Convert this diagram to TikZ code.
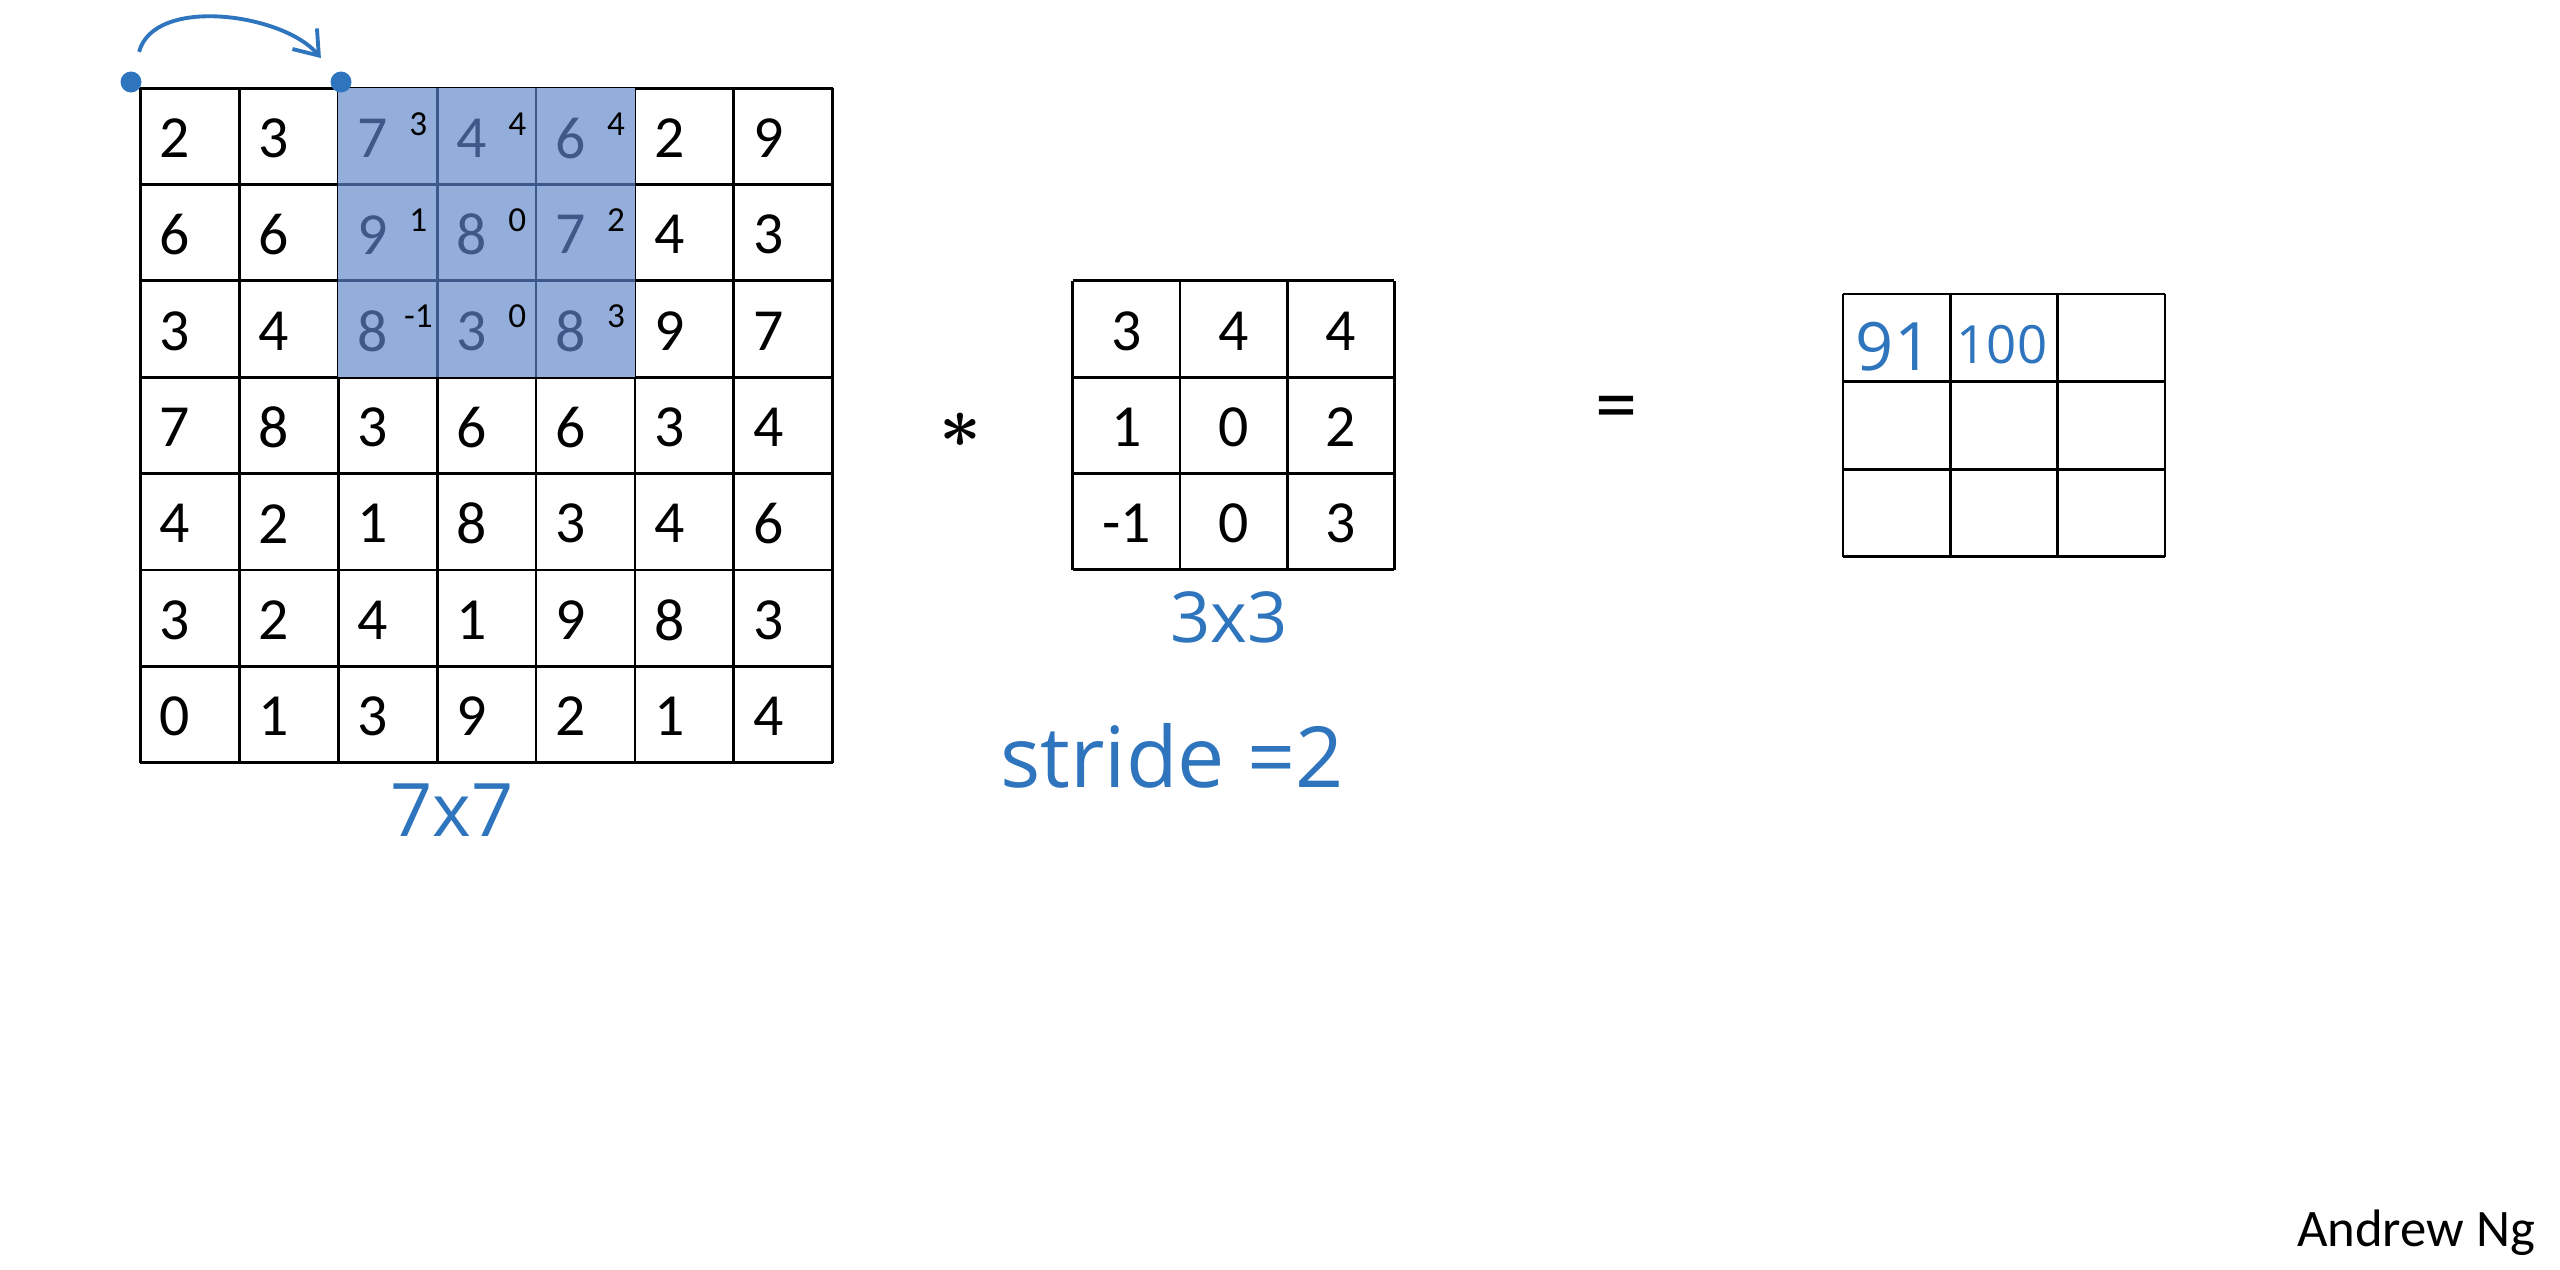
\documentclass[tikz,border=0pt]{standalone}
\usepackage{fontspec}
\setmainfont{Carlito}
\newfontfamily\handfont{Open Sans}
\usetikzlibrary{arrows.meta}

\definecolor{pen}{RGB}{46,117,190}
\definecolor{winfill}{RGB}{148,174,220}
\definecolor{windigit}{RGB}{62,88,136}
\definecolor{winline}{RGB}{62,90,140}

\tikzset{
  digit/.style={font=\fontsize{17}{20}\selectfont, inner sep=0pt},
  weight/.style={font=\fontsize{10}{12}\selectfont, inner sep=0pt},
  hand/.style={text=pen, font=\handfont\fontsize{22}{26}\selectfont, inner sep=0pt},
  pendot/.style={circle, fill=pen, inner sep=0pt, minimum size=2.1mm},
  gridline/.style={line width=0.8pt},
}

\begin{document}
\begin{tikzpicture}
\useasboundingbox (0,0) rectangle (25.6,-12.7);

% 7x7 input
\def\cw{0.989}
\def\ch{0.9635}
\foreach \i in {0,...,7} {
  \draw[gridline] ({1.404+\i*\cw},-0.882) -- ({1.404+\i*\cw},{-0.882-7*\ch});
  \draw[gridline] (1.404,{-0.882-\i*\ch}) -- ({1.404+7*\cw},{-0.882-\i*\ch});
}
\fill[winfill] ({1.404+2*\cw},-0.882) rectangle ({1.404+5*\cw},{-0.882-3*\ch});
\foreach \i in {1,2} {
  \draw[gridline, winline] ({1.404+(\i+2)*\cw},-0.882) -- ({1.404+(\i+2)*\cw},{-0.882-3*\ch});
  \draw[gridline, winline] ({1.404+2*\cw},{-0.882-\i*\ch}) -- ({1.404+5*\cw},{-0.882-\i*\ch});
}
\foreach \row [count=\r from 0] in {{2,3,7,4,6,2,9},{6,6,9,8,7,4,3},{3,4,8,3,8,9,7},
    {7,8,3,6,6,3,4},{4,2,1,8,3,4,6},{3,2,4,1,9,8,3},{0,1,3,9,2,1,4}} {
  \foreach \v [count=\c from 0] in \row {
    \pgfmathtruncatemacro\inwin{and(\r<3,and(\c>1,\c<5))}
    \ifnum\inwin=1 \def\tc{windigit}\else\def\tc{black}\fi
    \node[digit, text=\tc] (in-\r-\c) at ({1.404+(\c+0.35)*\cw},{-0.882-(\r+0.52)*\ch}) {\v};
  }
}
% filter weights over the window
\foreach \row [count=\r from 0] in {{3,4,4},{1,0,2},{-1,0,3}} {
  \foreach \v [count=\c from 2] in \row {
    \node[weight] (w-\r-\c) at ({1.404+(\c+0.81)*\cw},{-0.882-(\r+0.37)*\ch}) {\v};
  }
}

% stride arrow
\node[pendot] (from) at (1.31,-0.82) {};
\node[pendot] (to) at (3.41,-0.82) {};
\draw[pen, line width=1.1pt, -{Straight Barb[length=2.2mm, width=3.2mm]}, shorten <=2mm, shorten >=2mm]
  (from) to[out=75, in=130] (to);

% 3x3 filter
\def\kw{1.072}
\def\kh{0.963}
\foreach \i in {0,...,3} {
  \draw[gridline] ({10.727+\i*\kw},-2.808) -- ({10.727+\i*\kw},{-2.808-3*\kh});
  \draw[gridline] (10.727,{-2.808-\i*\kh}) -- ({10.727+3*\kw},{-2.808-\i*\kh});
}
\foreach \row [count=\r from 0] in {{3,4,4},{1,0,2},{-1,0,3}} {
  \foreach \v [count=\c from 0] in \row {
    \node[digit] (k-\r-\c) at ({10.727+(\c+0.5)*\kw},{-2.808-(\r+0.52)*\kh}) {\v};
  }
}

% 3x3 output
\def\ow{1.073}
\def\oh{0.876}
\foreach \i in {0,...,3} {
  \draw[gridline] ({18.43+\i*\ow},-2.94) -- ({18.43+\i*\ow},{-2.94-3*\oh});
  \draw[gridline] (18.43,{-2.94-\i*\oh}) -- ({18.43+3*\ow},{-2.94-\i*\oh});
}
\node[hand, font=\handfont\fontsize{19}{22}\selectfont] (o-0-0) at (18.94,-3.47) {91};
\node[hand, font=\handfont\fontsize{15}{18}\selectfont] (o-0-1) at (20.02,-3.45) {100};

% operators and labels
\node[font=\fontsize{21}{25}\selectfont\boldmath] (star) at (9.60,-4.30) {$\ast$};
\node[font=\fontsize{24}{28}\selectfont] (eq) at (16.16,-4.14) {=};
\node[hand, font=\handfont\fontsize{21}{25}\selectfont] (size-in) at (4.52,-8.10) {7x7};
\node[hand, font=\handfont\fontsize{20}{24}\selectfont] (size-k) at (12.29,-6.17) {3x3};
\node[hand, font=\handfont\fontsize{24}{28}\selectfont] (stride) at (11.72,-7.56) {stride =2};
\node[font=\fontsize{15}{18}\selectfont] (author) at (24.16,-12.33) {Andrew Ng};
\end{tikzpicture}
\end{document}
